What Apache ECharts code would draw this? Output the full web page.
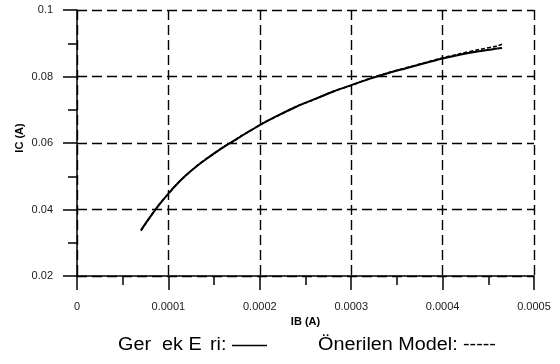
<!DOCTYPE html>
<html>
<head>
<meta charset="utf-8">
<script src="https://cdn.jsdelivr.net/npm/echarts@6/dist/echarts.min.js"></script>
<style>
html,body{margin:0;padding:0;background:#fff;}
#c{width:560px;height:364px;}
</style>
</head>
<body>
<div id="c"></div>
<script>
// IB (A) sample points
var ibValues = [0.00007, 0.00008, 0.00009, 0.0001, 0.00011, 0.00012, 0.00013, 0.00014, 0.00015, 0.00016, 0.00017, 0.00018, 0.00019, 0.0002, 0.00022, 0.00024, 0.00026, 0.00028, 0.0003, 0.00032, 0.00034, 0.00036, 0.00038, 0.0004, 0.00042, 0.00044, 0.00046, 0.000465];
// Gerçek Eğri (measured) IC (A)
var icMeasured = [0.0338, 0.0378, 0.0415, 0.0448, 0.0478, 0.0505, 0.0528, 0.0549, 0.0569, 0.0587, 0.0604, 0.0621, 0.0638, 0.0654, 0.0683, 0.0709, 0.0732, 0.0754, 0.0774, 0.0793, 0.0810, 0.0825, 0.0840, 0.0854, 0.0866, 0.0876, 0.0884, 0.0886];
// Önerilen Model IC (A)
var icModel = [0.0336, 0.0377, 0.0416, 0.0447, 0.0479, 0.0504, 0.0529, 0.0550, 0.0568, 0.0588, 0.0603, 0.0622, 0.0637, 0.0655, 0.0682, 0.0710, 0.0731, 0.0755, 0.0773, 0.0794, 0.0811, 0.0826, 0.0841, 0.0856, 0.0869, 0.0881, 0.0892, 0.0897];
var xTickLabels = ['0', '0.0001', '0.0002', '0.0003', '0.0004', '0.0005'];
var yTickLabels = ['0.02', '0.04', '0.06', '0.08', '0.1'];

function pairs(xs, ys) { return xs.map(function (x, i) { return [x, ys[i]]; }); }

var chart = echarts.init(document.getElementById('c'), null, {renderer: 'canvas'});
var font = '"Liberation Sans", Arial, sans-serif';
var axisCommon = {
  axisLine: {show: true, onZero: false, lineStyle: {color: '#000', width: 1.5}},
  axisTick: {show: true, inside: false, length: 14, lineStyle: {color: '#000', width: 1.5}},
  minorTick: {show: true, splitNumber: 2, length: 9, lineStyle: {color: '#000', width: 1.5}},
  splitLine: {show: true, lineStyle: {color: '#000', width: 1.4, type: [10, 5]}},
  minorSplitLine: {show: false}
};
chart.setOption({
  animation: false,
  backgroundColor: '#fff',
  grid: {left: 77, right: 26, top: 10, bottom: 88, containLabel: false},
  xAxis: Object.assign({
    type: 'value', min: 0, max: 0.0005, interval: 0.0001,
    name: 'IB (A)', nameLocation: 'middle', nameGap: 39,
    nameTextStyle: {fontFamily: font, fontSize: 11, fontWeight: 'bold', color: '#000'},
    axisLabel: {margin: 25, fontFamily: font, fontSize: 11, color: '#1a1a1a',
      formatter: function (v) { return xTickLabels[Math.round(v / 0.0001)]; }}
  }, axisCommon),
  yAxis: Object.assign({
    type: 'value', min: 0.02, max: 0.1, interval: 0.02,
    axisLabel: {margin: 24, fontFamily: font, fontSize: 11, color: '#1a1a1a',
      formatter: function (v) { return yTickLabels[Math.round((v - 0.02) / 0.02)]; }}
  }, axisCommon),
  series: [
    {name: 'Gerçek Eğri', type: 'line', data: pairs(ibValues, icMeasured), smooth: 0.3, showSymbol: false,
      lineStyle: {color: '#000', width: 2}},
    {name: 'Önerilen Model', type: 'line', data: pairs(ibValues, icModel), smooth: 0.3, showSymbol: false,
      lineStyle: {color: '#000', width: 1.6, type: [4, 2]}}
  ],
  graphic: [
    {type: 'text', x: 20, y: 138, rotation: Math.PI / 2,
      style: {text: 'IC (A)', font: 'bold 11px ' + font, fill: '#000', textAlign: 'center', textVerticalAlign: 'middle'}},
    {type: 'text', left: 118, top: 336, style: {text: 'Ger', font: '18px ' + font, fill: '#000'}, scaleX: 1.1},
    {type: 'text', left: 162, top: 336, style: {text: 'ek E', font: '18px ' + font, fill: '#000'}, scaleX: 1.1},
    {type: 'text', left: 210, top: 336, style: {text: 'ri:', font: '18px ' + font, fill: '#000'}, scaleX: 1.1},
    {type: 'line', shape: {x1: 232, y1: 345.5, x2: 267, y2: 345.5}, style: {stroke: '#000', lineWidth: 1.3}},
    {type: 'text', left: 318, top: 336, style: {text: 'Önerilen Model:', font: '18px ' + font, fill: '#000'}, scaleX: 1.1},
    {type: 'text', left: 463, top: 336, style: {text: '-----', font: '18px ' + font, fill: '#000'}, scaleX: 1.1}
  ]
});
</script>
</body>
</html>
